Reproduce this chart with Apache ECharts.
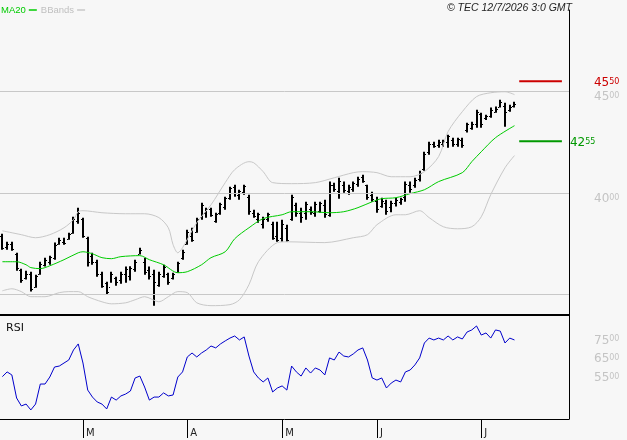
<!DOCTYPE html>
<html>
<head>
<meta charset="utf-8">
<script src="https://cdn.jsdelivr.net/npm/echarts@6/dist/echarts.min.js"></script>
<style>
  html, body { margin: 0; padding: 0; background: #f7f7f7; }
  #chart { width: 627px; height: 440px; }
</style>
</head>
<body>
<div id="chart"></div>
<script>
// daily bars (open / close ticks estimated)
const barHigh = [3800,3760,3760,3706,3628,3618,3613,3598,3662,3682,3692,3756,3780,3780,3805,3883,3928,3878,3785,3706,
  3672,3613,3564,3613,3588,3613,3638,3640,3672,3731,3682,3638,3623,3613,3647,3608,3608,3662,3721,3819,
  3829,3878,3952,3928,3928,3903,3952,3982,4031,4041,4016,4041,3992,3918,3903,3883,3903,3859,3859,3869,
  3844,3992,3952,3928,3957,3933,3957,3957,3967,4056,4051,4075,4056,4041,4056,4080,4090,4041,4006,3982,
  3977,3967,3962,3977,3977,4056,4056,4075,4110,4203,4252,4252,4262,4262,4287,4272,4272,4272,4346,4351,
  4410,4395,4385,4420,4425,4459,4444,4434,4449];
const barLow = [3721,3721,3716,3618,3559,3574,3515,3534,3598,3638,3647,3672,3746,3746,3770,3800,3849,3780,3638,3647,
  3588,3534,3500,3559,3544,3554,3559,3570,3613,3697,3598,3574,3446,3539,3583,3549,3574,3608,3672,3746,
  3760,3805,3869,3878,3883,3854,3893,3918,3967,3982,3967,3992,3893,3878,3854,3826,3859,3770,3760,3760,
  3760,3864,3883,3854,3869,3893,3883,3903,3878,3883,4006,3972,4001,3992,4006,4031,4051,3967,3957,3903,
  3928,3893,3905,3933,3942,3957,4001,4026,4056,4110,4188,4223,4223,4228,4223,4228,4228,4223,4297,4311,
  4321,4321,4359,4370,4395,4420,4326,4400,4420];
const barOpen = [3790,3735,3750,3700,3620,3580,3600,3540,3600,3645,3660,3680,3750,3760,3775,3805,3860,3870,3780,3690,
  3660,3600,3555,3540,3580,3570,3600,3590,3625,3700,3660,3620,3600,3550,3590,3600,3580,3610,3680,3750,
  3790,3810,3880,3900,3920,3860,3900,3930,3975,4030,3990,4005,3980,3900,3870,3850,3870,3850,3790,3780,
  3830,3870,3940,3900,3900,3920,3900,3910,3940,3890,4040,4010,4040,4010,4020,4045,4080,4040,3990,3960,
  3935,3950,3930,3950,3955,3980,4040,4040,4070,4120,4200,4240,4235,4240,4250,4260,4240,4260,4310,4320,
  4340,4390,4370,4380,4400,4425,4430,4410,4430];
const barClose = [3730,3750,3725,3630,3570,3600,3530,3590,3650,3670,3685,3745,3770,3755,3800,3870,3900,3790,3660,3660,
  3600,3545,3515,3600,3560,3600,3625,3630,3660,3720,3610,3590,3560,3600,3635,3560,3600,3655,3710,3810,
  3770,3870,3940,3920,3890,3895,3945,3975,4025,4000,4010,4035,3910,3885,3895,3870,3895,3780,3770,3850,
  3770,3980,3900,3880,3945,3905,3945,3950,3895,4040,4020,4060,4015,4030,4050,4070,4060,3980,3970,3920,
  3960,3910,3950,3965,3970,4045,4020,4065,4100,4190,4240,4230,4250,4255,4280,4240,4265,4235,4340,4340,
  4400,4340,4380,4410,4415,4450,4400,4425,4440];

// MA20 and Bollinger bands, read at selected bars
const maIdx = [0,3,5,6,8,10,13,16,17,19,21,23,25,29,31,34,37,39,42,44,47,49,52,55,59,61,65,69,72,75,78,80,83,86,89,92,97,99,101,104,108];
const maVal = [3662,3662,3647,3633,3628,3642,3672,3706,3711,3701,3682,3677,3687,3692,3672,3647,3608,3613,3647,3682,3711,3775,3829,3874,3893,3908,3908,3903,3908,3928,3957,3972,3977,3997,4016,4056,4100,4154,4203,4272,4331];
const upIdx = [0,4,7,10,13,15,16,17,21,26,30,33,35,36,37,38,41,44,47,49,52,53,55,57,61,66,70,74,76,79,82,86,89,92,94,97,100,103,106,108];
const upVal = [3814,3795,3780,3795,3829,3869,3908,3913,3903,3898,3898,3879,3829,3746,3706,3731,3854,3942,4051,4115,4154,4149,4105,4051,4046,4051,4075,4100,4105,4100,4080,4080,4105,4179,4302,4400,4474,4493,4498,4484];
const lowIdx = [0,2,4,6,9,12,14,16,18,21,23,26,28,30,33,35,37,39,41,44,48,50,52,54,58,60,68,74,77,79,83,85,88,90,93,96,99,101,103,106,108];
const lowVal = [3519,3529,3515,3490,3490,3510,3515,3515,3490,3465,3455,3460,3475,3490,3465,3490,3515,3510,3460,3446,3451,3475,3549,3662,3756,3760,3756,3780,3795,3844,3893,3893,3913,3879,3834,3824,3834,3883,3992,4124,4184];

const rsiVal = [52.4,54.9,53.3,41.1,36.9,37.9,34.8,37.9,48.5,48.5,52.2,57.5,58.0,59.6,61.2,66.5,69.7,59.6,45.3,41.6,
  39.0,37.9,35.3,41.6,40.0,42.2,43.2,44.8,51.7,52.7,46.9,40.0,41.6,41.6,43.8,42.2,42.7,52.2,54.9,62.8,
  64.9,62.8,64.9,66.5,68.6,67.6,69.7,71.3,72.8,73.9,71.8,73.4,63.3,54.9,51.7,49.6,51.7,44.3,46.4,47.5,
  45.3,58.0,54.9,52.7,57.0,54.3,57.0,55.9,53.3,62.3,61.2,65.4,63.3,62.8,64.4,66.5,67.6,61.2,51.7,50.6,
  51.7,46.4,49.0,50.6,49.6,54.9,55.9,58.6,62.3,70.2,72.8,71.8,72.8,71.8,73.9,71.8,73.4,72.3,76.0,77.1,
  79.2,74.4,75.5,72.8,77.1,76.5,70.2,72.8,71.8];

const monthLabels = { 17: 'M', 39: 'A', 59: 'M', 79: 'J', 101: 'J' };
const slotCount = 120;
const priceTicks = [4000, 4500];
const priceGrid = [3500, 4000, 4500];
const rsiTicks = [55, 65, 75];
const resistance = 4550;
const support = 4255;
const levelFrom = 109, levelTo = 118;

const categories = Array.from({ length: slotCount }, (_, i) => String(i));
const ohlc = barHigh.map((h, i) => [i, barOpen[i], barClose[i], barLow[i], h]);
const pairs = (idx, val) => idx.map((k, j) => [k, val[j]]);

// "4500" -> big "45" + small raised "00", the way the reference writes its numbers
const splitNum = (s) => '{a|' + s.slice(0, 2) + '}{b|' + s.slice(2) + '}';
const richNum = (color) => ({
  a: { fontSize: 12, color: color, fontFamily: 'DejaVu Sans' },
  b: { fontSize: 8, color: color, fontFamily: 'DejaVu Sans', padding: [0, 0, 2, 0] }
});

const chart = echarts.init(document.getElementById('chart'));

const option = {
  backgroundColor: '#f7f7f7',
  animation: false,
  textStyle: { fontFamily: 'Liberation Sans' },
  title: [
    {
      text: '© TEC 12/7/2026 3:0 GMT',
      right: 50, top: -2,
      textStyle: { fontSize: 10.5, fontStyle: 'italic', fontWeight: 'normal', color: '#222', fontFamily: 'Liberation Sans' }
    },
    {
      text: 'RSI', left: 1, top: 318,
      textStyle: { fontSize: 11, fontWeight: 'normal', color: '#111', fontFamily: 'DejaVu Sans' }
    }
  ],
  legend: {
    left: -4, top: 0,
    align: 'right',
    icon: 'rect',
    itemWidth: 8, itemHeight: 1.5,
    itemGap: 4,
    textStyle: { fontSize: 9.5, fontFamily: 'Liberation Sans', padding: [0, -2, 0, 0] },
    data: [
      { name: 'MA20', textStyle: { color: '#00cc00' } },
      { name: 'BBands', textStyle: { color: '#c0c0c0' } }
    ]
  },
  grid: [
    { left: 0, right: 58, top: 10, bottom: 125 },
    { left: 0, right: 58, top: 315, bottom: 21 }
  ],
  xAxis: [
    {
      type: 'category', gridIndex: 0, data: categories, boundaryGap: true,
      axisLine: { show: true, lineStyle: { color: '#000', width: 2 } },
      axisTick: { show: false }, axisLabel: { show: false }, splitLine: { show: false }
    },
    {
      type: 'category', gridIndex: 1, data: categories, boundaryGap: true,
      axisLine: { show: true, lineStyle: { color: '#000', width: 1 } },
      axisTick: {
        show: true, alignWithLabel: true, length: 19,
        interval: (i) => monthLabels[i] !== undefined,
        lineStyle: { color: '#000' }
      },
      axisLabel: {
        show: true, interval: (i) => monthLabels[i] !== undefined,
        formatter: (v, i) => monthLabels[i] || '',
        align: 'left', padding: [0, 0, 0, 3], margin: 9,
        fontSize: 10, color: '#222', fontFamily: 'DejaVu Sans'
      },
      splitLine: { show: false }
    }
  ],
  yAxis: [
    {
      type: 'value', gridIndex: 0, position: 'right',
      min: 3400, max: 4900, interval: 100,
      axisLine: { show: true, lineStyle: { color: '#000' } },
      axisTick: { show: false },
      splitLine: { show: false },
      axisLabel: {
        margin: 25, padding: [12, 0, 0, 0],
        formatter: (v) => priceTicks.includes(v) ? splitNum(String(v)) : '',
        rich: richNum('#c4c4c4')
      }
    },
    {
      type: 'value', gridIndex: 1, position: 'right',
      min: 30, max: 85, interval: 5,
      axisLine: { show: true, lineStyle: { color: '#000' } },
      axisTick: { show: false },
      splitLine: { show: false },
      axisLabel: {
        margin: 25, padding: [13, 0, 0, 0],
        formatter: (v) => rsiTicks.includes(v) ? splitNum(v + '00') : '',
        rich: richNum('#c4c4c4')
      }
    }
  ],
  series: [
    {
      name: 'BBands', type: 'line', xAxisIndex: 0, yAxisIndex: 0,
      data: pairs(upIdx, upVal), symbol: 'none', smooth: 0.3,
      lineStyle: { color: '#c8c8c8', width: 1 }, itemStyle: { color: '#c8c8c8' },
      markLine: {
        silent: true, symbol: 'none', label: { show: false },
        lineStyle: { color: '#c8c8c8', width: 1, type: 'solid' },
        data: priceGrid.map((p) => ({ yAxis: p }))
      }
    },
    {
      name: 'BBands', type: 'line', xAxisIndex: 0, yAxisIndex: 0,
      data: pairs(lowIdx, lowVal), symbol: 'none', smooth: 0.3,
      lineStyle: { color: '#c8c8c8', width: 1 }, itemStyle: { color: '#c8c8c8' }
    },
    {
      name: 'MA20', type: 'line', xAxisIndex: 0, yAxisIndex: 0,
      data: pairs(maIdx, maVal), symbol: 'none', smooth: 0.3,
      lineStyle: { color: '#00cc00', width: 1 }, itemStyle: { color: '#00cc00' }
    },
    {
      name: 'bars', type: 'custom', xAxisIndex: 0, yAxisIndex: 0,
      data: ohlc,
      renderItem: (params, api) => {
        const i = api.value(0);
        const o = api.coord([i, api.value(1)]);
        const c = api.coord([i, api.value(2)]);
        const l = api.coord([i, api.value(3)]);
        const h = api.coord([i, api.value(4)]);
        const x = Math.round(o[0]) - 1;
        return {
          type: 'group',
          children: [
            { type: 'rect', shape: { x: x, y: h[1], width: 2, height: Math.max(1, l[1] - h[1]) }, style: { fill: '#000' } },
            { type: 'rect', shape: { x: x - 1, y: Math.round(o[1]), width: 1, height: 1 }, style: { fill: '#000' } },
            { type: 'rect', shape: { x: x + 2, y: Math.round(c[1]), width: 1, height: 1 }, style: { fill: '#000' } }
          ]
        };
      }
    },
    {
      name: 'resistance', type: 'line', xAxisIndex: 0, yAxisIndex: 0,
      data: [[levelFrom, resistance], [levelTo, resistance]], symbol: 'none',
      lineStyle: { color: '#cc0000', width: 2 },
      endLabel: {
        show: true, distance: 32, padding: [4, 0, 0, 0],
        formatter: () => splitNum(String(resistance)),
        rich: richNum('#cc0000')
      }
    },
    {
      name: 'support', type: 'line', xAxisIndex: 0, yAxisIndex: 0,
      data: [[levelFrom, support], [levelTo, support]], symbol: 'none',
      lineStyle: { color: '#009900', width: 2 },
      endLabel: {
        show: true, distance: 8, padding: [4, 0, 0, 0],
        formatter: () => splitNum(String(support)),
        rich: richNum('#009900')
      }
    },
    {
      name: 'RSI', type: 'line', xAxisIndex: 1, yAxisIndex: 1,
      data: rsiVal, symbol: 'none',
      lineStyle: { color: '#0000cc', width: 1 }, itemStyle: { color: '#0000cc' }
    }
  ]
};

chart.setOption(option);
</script>
</body>
</html>
